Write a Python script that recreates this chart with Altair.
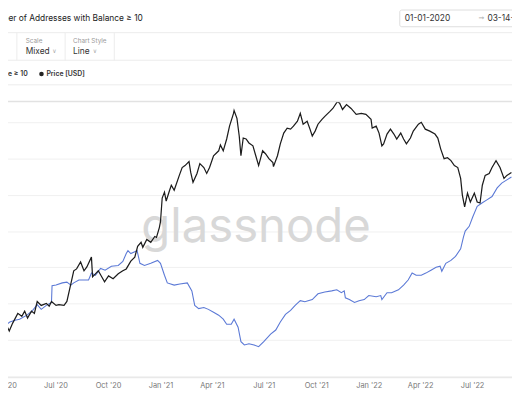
import altair as alt
import pandas as pd

FONT = "Inter"

# ---- data ----
price_dates = [
    "2020-03-26","2020-03-29","2020-04-04","2020-04-07","2020-04-11","2020-04-17","2020-04-26","2020-05-03","2020-05-08","2020-05-13",
    "2020-05-20","2020-05-25","2020-05-30","2020-06-06","2020-06-15","2020-06-20","2020-06-24","2020-07-02","2020-07-07","2020-07-16",
    "2020-07-21","2020-07-28","2020-08-02","2020-08-07","2020-08-14","2020-08-20","2020-08-25","2020-09-02","2020-09-04","2020-09-09",
    "2020-09-14","2020-09-20","2020-09-25","2020-10-02","2020-10-10","2020-10-19","2020-10-27","2020-11-02","2020-11-10","2020-11-17",
    "2020-11-22","2020-11-28","2020-12-01","2020-12-08","2020-12-15","2020-12-22","2020-12-25","2020-12-30",
    "2021-01-01","2021-01-04","2021-01-08","2021-01-11","2021-01-17","2021-01-20",
    "2021-01-25","2021-02-03","2021-02-08","2021-02-13","2021-02-20","2021-02-23","2021-02-27","2021-03-06","2021-03-11","2021-03-18",
    "2021-03-23","2021-03-28","2021-04-04","2021-04-13","2021-04-16","2021-04-21","2021-04-27","2021-05-02","2021-05-09","2021-05-10",
    "2021-05-15","2021-05-19","2021-05-22","2021-05-26","2021-05-31","2021-06-05","2021-06-12","2021-06-17","2021-06-22","2021-06-29",
    "2021-07-04","2021-07-10","2021-07-17","2021-07-18","2021-07-25","2021-07-30","2021-08-05","2021-08-11","2021-08-17","2021-08-22",
    "2021-08-29","2021-09-03","2021-09-08","2021-09-15","2021-09-20","2021-09-24","2021-09-29","2021-10-04","2021-10-11","2021-10-16",
    "2021-10-25","2021-10-30","2021-11-07","2021-11-11","2021-11-16","2021-11-23","2021-12-01","2021-12-10","2021-12-19","2021-12-27",
    "2022-01-05","2022-01-07","2022-01-14","2022-01-19","2022-01-24","2022-01-27","2022-02-02","2022-02-08","2022-02-14","2022-02-19",
    "2022-02-26","2022-03-03","2022-03-08","2022-03-15","2022-03-20","2022-03-29","2022-04-03","2022-04-10","2022-04-18","2022-04-27",
    "2022-05-02","2022-05-07","2022-05-13","2022-05-19","2022-05-25","2022-05-31","2022-06-06","2022-06-11","2022-06-14","2022-06-18",
    "2022-06-23","2022-06-28","2022-07-05","2022-07-10","2022-07-15","2022-07-19","2022-07-24","2022-07-31","2022-08-05","2022-08-12",
    "2022-08-19","2022-08-26","2022-08-31","2022-09-08",
]
price_usd = [
    152, 132, 158, 175, 163, 183, 211, 202, 218, 197,
    218, 211, 251, 237, 244, 234, 251, 237, 240, 237,
    251, 326, 393, 404, 447, 393, 416, 480, 360, 376,
    393, 360, 335, 365, 350, 376, 393, 404, 453, 480,
    562, 596, 554, 622, 596, 649, 640, 739,
    806, 1138, 1241, 1090, 1277, 1373,
    1277, 1585, 1778, 1830, 1939, 1655, 1433, 1631, 1884, 1778,
    1631, 1778, 2113, 2271, 2477, 2271, 2699, 3255, 3925, 4097,
    3652, 2818, 2113, 2738, 2699, 2547, 2441, 2113, 1830, 2271,
    2175, 2024, 1911, 1803, 2113, 2512, 2943, 3162, 3117, 3255,
    3499, 3925, 3350, 3499, 3117, 2818, 3029, 3350, 3597, 3758,
    4038, 4217, 4666, 4550, 4155, 4467, 4217, 3868, 3925, 3868,
    3597, 3162, 3255, 2943, 2441, 2512, 2901, 3117, 2901, 2699,
    2943, 2699, 2512, 2738, 3029, 3350, 3447, 3117, 3029, 2901,
    2738, 2337, 2024, 2054, 1967, 1830, 1778, 1518, 1189, 1000,
    1223, 1074, 1223, 1074, 1059, 1373, 1585, 1631, 1778, 1967,
    1778, 1518, 1585, 1655,
]

addr_dates = [
    "2020-03-26","2020-04-04","2020-04-12","2020-04-21","2020-04-29","2020-05-12","2020-05-22","2020-05-30","2020-06-06","2020-06-15",
    "2020-06-24","2020-06-25","2020-07-02","2020-07-13","2020-07-21","2020-07-28","2020-08-02","2020-08-11","2020-08-20","2020-08-28",
    "2020-09-02","2020-09-09","2020-09-18","2020-09-26","2020-10-07","2020-10-19","2020-10-27","2020-11-02","2020-11-05","2020-11-10",
    "2020-11-17","2020-11-21","2020-11-26","2020-12-04","2020-12-15","2020-12-27","2021-01-01","2021-01-08","2021-01-13","2021-01-25",
    "2021-02-04","2021-02-17","2021-02-25","2021-03-02","2021-03-09","2021-03-18","2021-03-26","2021-04-04","2021-04-13","2021-04-21",
    "2021-04-27","2021-05-05","2021-05-10","2021-05-17","2021-05-22","2021-05-28","2021-06-05","2021-06-14","2021-06-22","2021-07-01",
    "2021-07-13","2021-07-22","2021-07-30","2021-08-08","2021-08-17","2021-08-25","2021-09-03","2021-09-11","2021-09-24","2021-10-04",
    "2021-10-16","2021-10-28","2021-11-06","2021-11-14","2021-11-19","2021-11-21","2021-11-28","2021-12-07","2021-12-15","2021-12-24",
    "2022-01-01","2022-01-14","2022-01-22","2022-01-24","2022-02-02","2022-02-10","2022-02-22","2022-03-03","2022-03-11","2022-03-18",
    "2022-03-25","2022-04-03","2022-04-11","2022-04-20","2022-04-29","2022-05-06","2022-05-09","2022-05-16","2022-05-25","2022-06-02",
    "2022-06-11","2022-06-16","2022-06-19","2022-06-26","2022-07-02","2022-07-10","2022-07-19","2022-07-27","2022-08-05","2022-08-14",
    "2022-08-22","2022-08-31","2022-09-08",
]
addr_count = [
    282700, 284000, 284900, 285400, 285700, 286800, 288100, 289700, 288400, 289500,
    290300, 294900, 295100, 295700, 295900, 295100, 295700, 296500, 296500, 296500,
    298400, 297800, 299700, 299200, 300300, 300500, 301600, 303800, 304600, 303800,
    304300, 304600, 301100, 300500, 301100, 301900, 301100, 297800, 295700, 295100,
    295400, 295700, 293500, 289500, 288600, 288900, 288400, 287600, 286800, 285700,
    284300, 284300, 285700, 283500, 279500, 278600, 278900, 278600, 278100, 279500,
    281600, 282700, 284900, 287000, 288100, 289500, 290800, 290500, 291100, 292700,
    293200, 293500, 293800, 293000, 293500, 291600, 291100, 290300, 290800, 291100,
    292200, 291900, 292200, 291100, 293000, 293000, 293800, 295100, 296500, 298400,
    297800, 297800, 298400, 299200, 300000, 300300, 298900, 301100, 301900, 303000,
    305100, 308400, 310000, 311300, 313800, 316800, 317800, 318600, 319500, 321900,
    323200, 324100, 324900,
]

x_tick_dates = [(2020, 4), (2020, 7), (2020, 10), (2021, 1), (2021, 4), (2021, 7),
                (2021, 10), (2022, 1), (2022, 4), (2022, 7)]
price_grid = [100, 200, 600, 850, 1000, 4000]
addr_grid = [270000, 280000, 290000, 300000, 310000, 320000, 330000, 340000]

price_df = pd.DataFrame({"date": price_dates, "price": price_usd})
addr_df = pd.DataFrame({"date": addr_dates, "addresses": addr_count})

x_enc = alt.X(
    "date:T",
    scale=alt.Scale(
        type="utc",
        domain=[alt.DateTime(year=2020, month=3, date=26, utc=True),
                alt.DateTime(year=2022, month=9, date=9, utc=True)],
        nice=False,
    ),
    axis=alt.Axis(
        values=[alt.DateTime(year=y, month=m, date=1, utc=True) for y, m in x_tick_dates],
        labelExpr="utcFormat(datum.value, \"%b '%y\")",
        labelFont=FONT, labelFontSize=7.5, labelColor="#777777",
        labelPadding=4, labelFlush=False, labelOverlap=False, labelBound=False,
        ticks=False, grid=False, domainColor="#e4e4e4", title=None,
    ),
)

addr_line = alt.Chart(addr_df).mark_line(color="#5b79d6", strokeWidth=1.1, clip=True).encode(
    x=x_enc,
    y=alt.Y("addresses:Q",
            scale=alt.Scale(domain=[269700, 345700], nice=False, zero=False),
            axis=alt.Axis(values=addr_grid, labels=False, ticks=False, domain=False,
                          title=None, gridColor="#f0f0f0", gridWidth=1)),
)

price_line = alt.Chart(price_df).mark_line(color="#1c1c1c", strokeWidth=1.25, clip=True).encode(
    x=x_enc,
    y=alt.Y("price:Q",
            scale=alt.Scale(type="log", domain=[83, 4665], nice=False),
            axis=alt.Axis(values=price_grid, labels=False, ticks=False, domain=False,
                          title=None, gridColor="#f0f0f0", gridWidth=1, orient="right")),
)

# ---- page chrome (dashboard header, legend, watermark) ----
base = alt.Chart(alt.Data(values=[{}]))


def txt(s, x, y, size, color, align="left", weight="normal", font=FONT, baseline="middle"):
    return base.mark_text(text=s, fontSize=size, color=color, align=align, baseline=baseline,
                          font=font, fontWeight=weight).encode(x=alt.value(x), y=alt.value(y))


def hline(y, color, w=1.0):
    return base.mark_rule(color=color, strokeWidth=w).encode(
        x=alt.value(-10), x2=alt.value(540), y=alt.value(y))


def vline(x, y1, y2, color):
    return base.mark_rule(color=color, strokeWidth=1).encode(
        x=alt.value(x), y=alt.value(y1), y2=alt.value(y2))


watermark = txt("glassnode", 260, 143, 48, "#d8d8d8", align="center", baseline="alphabetic")

chrome = [
    txt("Number of Addresses with Balance ≥ 10", 145, -85, 8.5, "#222222", align="right"),
    base.mark_rect(fill="white", stroke="#dddddd", strokeWidth=1, cornerRadius=2).encode(
        x=alt.value(406), x2=alt.value(540), y=alt.value(-93), y2=alt.value(-76)),
    txt("01-01-2020", 411, -85, 8.5, "#333333"),
    txt("→", 489, -85, 7, "#aaaaaa", align="center", font="DejaVu Sans"),
    txt("03-14-2023", 495, -85, 8.5, "#333333"),
    hline(-70, "#ececec"),
    hline(-42, "#ececec"),
    hline(-17, "#ececec"),
    hline(0, "#e2e2e2", 1.5),
    vline(17, -70, -42, "#ececec"),
    vline(66, -70, -42, "#ececec"),
    vline(116, -70, -42, "#ececec"),
    txt("Scale", 26, -61.5, 6.5, "#9a9a9a"),
    txt("Mixed", 26, -51, 8.5, "#333333"),
    txt("∨", 53, -51, 6, "#aaaaaa", font="DejaVu Sans"),
    txt("Chart Style", 74, -61.5, 6.5, "#9a9a9a"),
    txt("Line", 74, -51, 8.5, "#333333"),
    txt("∨", 94, -51, 6, "#aaaaaa", font="DejaVu Sans"),
    txt("Addresses with Balance ≥ 10", 28, -28, 7, "#333333", align="right", weight=600),
    base.mark_point(filled=True, shape="circle", size=22, color="#222222", opacity=1).encode(
        x=alt.value(42), y=alt.value(-28)),
    txt("Price [USD]", 47, -28, 7, "#333333", weight=600),
]

chart = alt.layer(watermark, addr_line, price_line, *chrome).resolve_scale(
    y="independent"
).properties(
    width=520,
    height=280,
    padding={"left": -8, "top": 92, "right": 0, "bottom": 12},
    autosize=alt.AutoSizeParams(type="none"),
    background="white",
).configure_view(stroke=None)

chart.save("out.html", embed_options={"renderer": "svg", "actions": False})
